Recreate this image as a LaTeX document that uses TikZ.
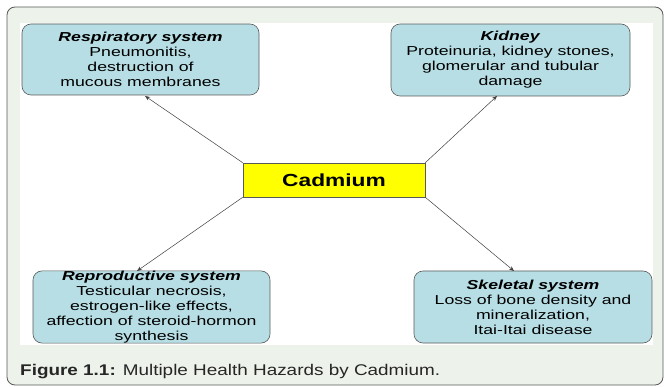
\documentclass[tikz,border=0pt]{standalone}
\usepackage{fontspec}
\setmainfont{Liberation Sans}
\newfontfamily\boxfont[FakeStretch=1.36]{Liberation Sans}
\newfontfamily\cadfont[FakeStretch=1.3]{Liberation Sans}
\newfontfamily\capfont[FakeStretch=1.22]{Liberation Sans}
\usetikzlibrary{arrows.meta}
\begin{document}
\begin{tikzpicture}[x=1pt,y=-1pt,
  organ/.style={draw=gray!70!black, fill=boxblue, rounded corners=9pt, line width=0.6pt, align=center, inner sep=0pt, font=\boxfont\fontsize{13}{15}\selectfont},
  arr/.style={draw=black!75, line width=0.5pt, -{Stealth[length=5pt,width=4pt]}}]
\definecolor{boxblue}{HTML}{B7DEE4}
\definecolor{framebg}{HTML}{EDF2EA}
\definecolor{cadyellow}{HTML}{FFFF00}
\useasboundingbox (0,0) rectangle (664,387);
\fill[white] (0,0) rectangle (664,387);
\draw[fill=framebg, draw=gray!70!black, line width=0.8pt, rounded corners=8pt] (7,7) rectangle (663,385);
\fill[white] (20,23) rectangle (653,345);
\node[organ, minimum width=237pt, minimum height=71pt] (resp) at (140.5,59.5) {\textbf{\textit{Respiratory system}}\\Pneumonitis,\\destruction of\\mucous membranes};
\node[organ, minimum width=239pt, minimum height=72pt] (kid) at (510.5,60) {\textbf{\textit{Kidney}}\\Proteinuria, kidney stones,\\glomerular and tubular\\damage};
\node[organ, minimum width=237pt, minimum height=72pt] (repro) at (151.5,307) {\textbf{\textit{Reproductive system}}\\Testicular necrosis,\\estrogen-like effects,\\affection of steroid-hormon\\synthesis};
\node[organ, minimum width=238pt, minimum height=72pt] (skel) at (533,307) {\textbf{\textit{Skeletal system}}\\Loss of bone density and\\mineralization,\\Itai-Itai disease};
\node[draw=gray!70!black, fill=cadyellow, line width=0.6pt, minimum width=182pt, minimum height=34pt, inner sep=0pt, font=\cadfont\fontsize{17.5}{20}\selectfont\bfseries] (cad) at (334,180) {Cadmium};
\coordinate (rtip) at (145,96);
\coordinate (ktip) at (497,96);
\coordinate (ptip) at (137,271);
\coordinate (stip) at (514,271);
\draw[arr] (cad.north west) -- (rtip);
\draw[arr] (cad.north east) -- (ktip);
\draw[arr] (cad.south west) -- (ptip);
\draw[arr] (cad.south east) -- (stip);
\node[anchor=base west, inner sep=0pt, font=\capfont\fontsize{15.5}{18}\selectfont, text=black!85] (cap) at (20,375) {\textbf{Figure 1.1:} Multiple Health Hazards by Cadmium.};
\end{tikzpicture}
\end{document}
